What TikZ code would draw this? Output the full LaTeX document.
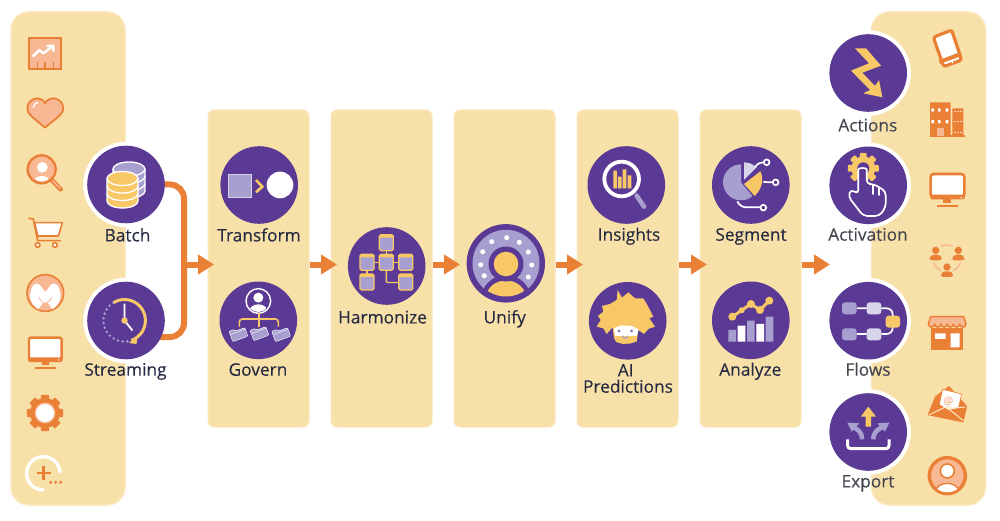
\documentclass[tikz,border=0pt]{standalone}
\usepackage{fontspec}
\setmainfont{Open Sans}[FakeBold=0.2]
\usetikzlibrary{arrows.meta,calc}
\definecolor{panelc}{HTML}{F8E0A9}
\definecolor{paneledge}{HTML}{FBE8BE}
\definecolor{oran}{HTML}{EA7F36}
\definecolor{lite}{HTML}{F9B894}
\definecolor{purp}{HTML}{5B3A96}
\definecolor{yell}{HTML}{F8C766}
\definecolor{lav}{HTML}{A79FCF}
\definecolor{lav2}{HTML}{D8D5EA}
\definecolor{inkd}{HTML}{262B42}
\definecolor{inkg}{HTML}{44474F}
\tikzset{
  outerpanel/.style={rectangle,rounded corners=18pt,fill=panelc,draw=paneledge,line width=1.5pt,minimum width=114pt,minimum height=493pt,inner sep=0pt},
  midpanel/.style={rectangle,rounded corners=6pt,fill=panelc,draw=paneledge,line width=1pt,minimum width=101pt,minimum height=317pt,inner sep=0pt},
  hub/.style={circle,fill=purp,minimum size=77.6pt,inner sep=0pt},
  ring/.style={circle,fill=white,minimum size=85.5pt,inner sep=0pt},
  lab/.style={text=inkd,font=\fontsize{17.3}{17.3}\selectfont,inner sep=0pt,anchor=base,yshift=-.7pt},
  labr/.style={lab,text=inkg},
  flow/.style={oran,line width=6pt,-{Triangle[length=16pt,width=19pt]},shorten >=0pt},
  conn/.style={oran,line width=6pt,rounded corners=14pt},
  zm/.style 2 args={shift={(#1,#2)},scale=.3333}
}
\newcommand{\gearicon}[6]{% x y body outer halfw colour
  \fill[#6] (#1,#2) circle[radius=#3];
  \foreach \a in {0,45,...,315}{
    \fill[#6,shift={(#1,#2)},rotate=\a,rounded corners=1pt] (-#5,-#4) rectangle (#5,-#3+1);
  }
}
\newcommand{\dbcyl}[6]{% cx ty rx ry h colour
  \filldraw[fill=#6,draw=white,line width=1.3pt] (#1-#3,#2) -- (#1-#3,#2+#5) arc[start angle=180,end angle=0,x radius=#3,y radius=#4] -- (#1+#3,#2) arc[start angle=0,end angle=-180,x radius=#3,y radius=#4] -- cycle;
  \draw[white,line width=1.3pt] (#1-#3,#2) arc[start angle=180,end angle=0,x radius=#3,y radius=#4];
  \draw[white,line width=1.3pt] (#1-#3,#2+#5/3) arc[start angle=180,end angle=0,x radius=#3,y radius=#4];
  \draw[white,line width=1.3pt] (#1-#3,#2+2*#5/3) arc[start angle=180,end angle=0,x radius=#3,y radius=#4];
}
\newcommand{\folderic}[2]{%
  \filldraw[shift={(#1,#2)},rotate=-20,fill=lav,draw=white,line width=.5pt,rounded corners=1pt] (-8,-5) -- (-8,6) -- (8,6) -- (8,-3) -- (-1,-3) -- (-3,-5) -- cycle;
  \fill[shift={(#1,#2)},rotate=-20,lav] (-7.5,-1) rectangle (7.5,5.5);
  \draw[shift={(#1,#2)},rotate=-20,lav2,line width=.8pt] (-7.5,-1.5) -- (7.5,-1.5);
}
\newcommand{\harmbox}[2]{%
  \filldraw[fill=lav,draw=yell,line width=1.2pt,rounded corners=1.5pt] (#1-7,#2-8) rectangle (#1+7,#2+8);
  \fill[yell,rounded corners=1pt] (#1-7,#2-8) rectangle (#1+7,#2-5);
}
\begin{document}
\begin{tikzpicture}[x=1pt,y=1pt,yscale=-1]
\useasboundingbox (0,0) rectangle (1000,521);
\fill[white] (0,0) rectangle (1000,521);
% panels
\node[outerpanel] (srcp) at (68,258.5) {};
\node[outerpanel] (dstp) at (928.5,258.5) {};
\node[midpanel] (p1) at (258.5,268.5) {};
\node[midpanel] (p2) at (381.5,268.5) {};
\node[midpanel] (p3) at (504.5,268.5) {};
\node[midpanel] (p4) at (627.5,268.5) {};
\node[midpanel] (p5) at (750.5,268.5) {};
% rings
\node[ring] (batchr) at (126,184.5) {};
\node[ring] (streamr) at (126,320.5) {};
\node[ring] (actionsr) at (868.2,73) {};
\node[ring] (activr) at (868.2,185.3) {};
\node[ring] (flowsr) at (868.2,320.7) {};
\node[ring] (exportr) at (868.2,432) {};
% connectors
\coordinate (jt) at (184,184.5);
\coordinate (jm) at (184,264.5);
\coordinate (jb) at (184,337);
\coordinate (t1) at (214,264.5);
\coordinate (t2) at (337,264.5);
\coordinate (t3) at (460,264.5);
\coordinate (t4) at (583,264.5);
\coordinate (t5) at (707,264.5);
\coordinate (t6) at (830,264.5);
\draw[conn] (batchr.center |- jt) -- (jt) -- (jb) -- (streamr.center |- jb);
\draw[flow] (jm) -- (t1);
\draw[flow] (p1.east |- t2) -- (t2);
\draw[flow] (p2.east |- t3) -- (t3);
\draw[flow] (p3.east |- t4) -- (t4);
\draw[flow] (p4.east |- t5) -- (t5);
\draw[flow] (p5.east |- t6) -- (t6);
% hubs
\node[hub] (batch) at (126,184.5) {};
\node[hub] (stream) at (126,320.5) {};
\node[hub] (transf) at (259.2,185) {};
\node[hub] (govern) at (258.3,320.3) {};
\node[hub] (harm) at (386.7,266) {};
\node[hub,minimum size=78.4pt] (unify) at (505.8,263.3) {};
\node[hub] (insights) at (626.3,185) {};
\node[hub] (aipred) at (627.7,320.8) {};
\node[hub] (segment) at (750.8,185) {};
\node[hub] (analyze) at (750.8,320.3) {};
\node[hub] (actions) at (868.2,73) {};
\node[hub] (activ) at (868.2,185.3) {};
\node[hub] (flows) at (868.2,320.7) {};
\node[hub] (export) at (868.2,432) {};
% labels
\node[lab] (lbatch) at (127.5,240.7) {Batch};
\node[lab] (lstream) at (125.5,375) {Streaming};
\node[lab] (ltransf) at (259,240.7) {Transform};
\node[lab] (lgovern) at (258,375) {Govern};
\node[lab] (lharm) at (382.5,322.7) {Harmonize};
\node[lab] (lunify) at (504.7,322.7) {Unify};
\node[lab] (linsights) at (629,240) {Insights};
\node[lab] (lai) at (625.7,375.7) {AI};
\node[lab] (lpred) at (628,392) {Predictions};
\node[lab] (lsegment) at (751,240) {Segment};
\node[lab] (lanalyze) at (750.3,375) {Analyze};
\node[labr] (lactions) at (867.8,130.7) {Actions};
\node[labr] (lactiv) at (868,240) {Activation};
\node[labr] (lflows) at (868,375) {Flows};
\node[labr] (lexport) at (868,486.7) {Export};

%%%%%%%% left column icons
\begin{scope}[zm={0}{0}]
 % chart
 \filldraw[fill=lite,draw=oran,line width=1.8pt] (88,113) rectangle (183,207);
 \draw[oran,line width=1.3pt] (112,207) -- (112,186) (135,207) -- (135,186) (160,207) -- (160,186);
 \draw[white,line width=2.4pt,line join=round] (98,170) -- (118,150) -- (130,160) -- (158,138);
 \draw[white,line width=2.4pt,line join=round] (140,138) -- (160,137) -- (160,155);
 % heart
 \filldraw[fill=lite,draw=oran,line width=1.8pt,line join=round] (135,383) .. controls (110,360) and (82,345) .. (82,325) .. controls (82,305) and (100,295) .. (112,295) .. controls (122,295) and (130,300) .. (135,310) .. controls (140,300) and (150,295) .. (160,295) .. controls (172,295) and (190,305) .. (190,325) .. controls (190,345) and (160,360) .. (135,383) -- cycle;
 \draw[white,line width=1.4pt,line cap=round] (100,323) .. controls (100,315) and (105,310) .. (112,308);
 % search person
 \draw[oran,line width=4.6pt,line cap=round] (155,540) -- (182,568);
 \draw[lite,line width=1.6pt,line cap=round] (158,543) -- (180,565);
 \filldraw[fill=lite,draw=oran,line width=2.4pt] (125,508) circle[radius=42];
 \fill[white] (127,502) circle[radius=16];
 \begin{scope}
  \clip (125,508) circle[radius=36];
  \fill[white] (125,545) ellipse[x radius=24,y radius=17];
 \end{scope}
 % cart
 \filldraw[fill=white,draw=oran,line width=1.6pt,line join=round] (104,668) -- (187,668) -- (175,708) -- (113,708) -- cycle;
 \draw[oran,line width=1.7pt,line join=round] (85,655) -- (100,657) -- (113,722) -- (183,722);
 \draw[oran,line width=1.6pt,fill=white] (113,735) circle[radius=7] (165,735) circle[radius=7];
\end{scope}
\begin{scope}[zm={0}{260}]
 % mule
 \filldraw[fill=lite,draw=oran,line width=1.6pt] (136,99) circle[radius=55];
 \draw[white,line width=8pt,line join=round] (122,138) .. controls (100,125) and (97,105) .. (110,82) -- (136,116) -- (162,82) .. controls (175,105) and (172,125) .. (150,138);
 % monitor
 \filldraw[fill=white,draw=oran,line width=2.4pt,rounded corners=2pt] (87,233) rectangle (185,303);
 \fill[oran,rounded corners=1pt] (87,292) rectangle (185,306);
 \fill[white] (176,300) circle[radius=2.5];
 \fill[oran] (125,305) rectangle (148,316);
 \draw[oran,line width=2pt] (105,323) -- (167,323);
 % plus
 \draw[white,line width=3.4pt,line cap=round] (130,640) ++(-5:50) arc[start angle=-5,end angle=-270,radius=50];
 \draw[oran,line width=2.8pt] (130,618) -- (130,660) (110,639) -- (152,639);
 \fill[oran] (152,667) circle[radius=5] (167,667) circle[radius=5] (182,667) circle[radius=5];
\end{scope}
% gear
\gearicon{45}{413}{15}{18.2}{4.2}{oran}
\fill[lite] (45,413) circle[radius=10.5];
\fill[white] (45,413) circle[radius=9];

% Batch
\dbcyl{129}{169}{16}{7}{22}{lav}
\dbcyl{122.5}{178.5}{15.5}{7}{22.5}{yell}
% Streaming
\begin{scope}[shift={(124.5,320.5)}]
 \foreach \a in {82,95,...,240}{\fill[lav] (\a:21) circle[radius=1.4];}
 \draw[yell,line width=3pt] (-121:21) arc[start angle=-121,end angle=71,radius=21];
 \fill[yell] (4.5,22.5) -- (13,15) -- (12,23.5) -- cycle;
 \draw[white,line width=1.8pt] (0,-17) -- (0,0) -- (8,10);
 \fill[yell] (0,0) circle[radius=3.2];
\end{scope}
%%% middle
\begin{scope}[zm={200}{130}]
 % Transform
 \filldraw[fill=lav,draw=lav2,line width=.4pt] (85,132) rectangle (155,202);
 \draw[yell,line width=2.6pt] (168,150) -- (187,170) -- (168,187);
 \fill[white] (240,165) circle[radius=40];
 % Govern
 \draw[white,line width=1.4pt] (175,513) circle[radius=37];
 \fill[white] (175,503) circle[radius=15];
 \begin{scope}
  \clip (175,513) circle[radius=33];
  \fill[white] (175,545) ellipse[x radius=28,y radius=22];
 \end{scope}
 \draw[yell,line width=1.6pt,rounded corners=3pt] (118,590) -- (118,567) -- (235,567) -- (235,590);
 \draw[yell,line width=1.6pt] (177,550) -- (177,590);
\end{scope}
\folderic{238.3}{333.3}
\folderic{259.3}{332.3}
\folderic{281}{333.3}
% Harmonize
\draw[yell,line width=1.4pt] (386.3,243) -- (386.3,262) (367,262.3) -- (405.7,262.3) (367,262) -- (367,282);
\draw[yell,line width=1.4pt,rounded corners=1pt] (386.3,262) -- (386.3,282.5) -- (405,282.5);
\harmbox{386.3}{242.7}
\harmbox{367}{262.3}
\harmbox{386.3}{262.3}
\harmbox{405.7}{262.3}
\harmbox{367}{282}
\harmbox{405.7}{282}
% Unify
\fill[lav] (506,263.3) circle[radius=33.5];
\begin{scope}
 \clip (506,263.3) circle[radius=39];
 \fill[purp] (506,300) circle[radius=25];
\end{scope}
\begin{scope}
 \clip (506,264) circle[radius=32.5];
 \fill[yell] (506,298) ellipse[x radius=20,y radius=17.5];
\end{scope}
\fill[purp] (506,264) circle[radius=17.5];
\fill[yell] (506,264) circle[radius=12.3];
\foreach \px/\py in {480.7/264.7,482.7/251.7,491.7/241.7,506.7/237.7,519.3/242.3,528.3/252,531.7/265,528.3/277,484.3/275.7}{\fill[white] (\px,\py) circle[radius=2.5];}
\begin{scope}[zm={440}{130}]
 % Insights
 \draw[lav,line width=4.6pt,line cap=round] (590,197) -- (612,230);
 \draw[white,line width=3.8pt] (545,147) circle[radius=52];
 \fill[yell] (520,122) rectangle (531,175) (534,140) rectangle (545,175) (548,118) rectangle (559,175) (563,136) rectangle (574,175);
 % Einstein
 \fill[yell,line join=round] (533,480) -- (546,503) -- (565,487) -- (585,505) -- (610,505) -- (622,525) -- (640,560) -- (628,565) -- (645,590) -- (625,597) -- (612,612) -- (595,600) -- (590,635) -- (550,642) -- (522,625) -- (518,592) -- (500,612) -- (490,595) -- (470,590) -- (482,570) -- (474,558) -- (490,545) -- (486,528) -- (510,522) -- (530,510) -- cycle;
 \fill[white] (522,594) -- (545,586) -- (575,588) -- (596,598) -- (590,618) -- (525,618) -- cycle;
 \fill[lav] (537,603) circle[radius=5] (575,603) circle[radius=5];
 \fill[purp] (537,603) circle[radius=2.4] (575,603) circle[radius=2.4];
 \draw[lav,line width=1.2pt] (548,617) arc[start angle=180,end angle=0,radius=8];
 \fill[yell] (522,622) -- (548,630) -- (566,630) -- (592,620) -- (590,634) -- (570,641) -- (545,641) -- (528,636) -- cycle;
\end{scope}
\begin{scope}[zm={680}{130}]
 % Segment
 \fill[lav] (183,157) -- ++(50:54) arc[start angle=50,end angle=270,radius=54] -- cycle;
 \fill[lav2] (192,150) -- (192,97) arc[start angle=-90,end angle=-45,radius=53] -- cycle;
 \fill[yell] (192,162) -- (241,124) .. controls (252,145) and (248,175) .. (224,198) -- cycle;
 \draw[white,line width=1.7pt] (225,112) .. controls (232,100) and (240,98) .. (252,97);
 \draw[white,line width=1.7pt] (250,156) -- (280,157);
 \draw[white,line width=1.7pt,rounded corners=6pt] (172,214) -- (180,232) -- (242,232);
 \filldraw[fill=purp,draw=white,line width=1.7pt] (260,97) circle[radius=8.5] (287,157) circle[radius=8.5] (250,233) circle[radius=8.5];
 % Analyze
 \fill[lav] (145,600) rectangle (168,635) (201,572) rectangle (224,635) (257,560) rectangle (280,635);
 \fill[white] (173,587) rectangle (196,635) (229,582) rectangle (252,635);
 \draw[yell,line width=3pt] (157,560) -- (213,522) -- (240,540) -- (268,512);
 \fill[yell] (157,560) circle[radius=12] (185,541) circle[radius=9] (213,522) circle[radius=12] (240,540) circle[radius=12] (268,512) circle[radius=12];
\end{scope}
%%% right hubs
\begin{scope}[zm={820}{0}]
 % bolt
 \fill[yell,line join=round] (105,145) -- (138,145) -- (183,197) -- (127,218) -- (165,258) -- (177,240) -- (187,292) -- (130,280) -- (150,270) -- (93,212) -- (147,190) -- cycle;
\end{scope}
\gearicon{863.3}{168.3}{12}{15.5}{3.4}{yell}
\fill[purp] (863.3,168.3) circle[radius=6];
\begin{scope}[zm={820}{0}]
 \filldraw[fill=purp,draw=white,line width=1.7pt,line join=round,rounded corners=4pt] (115,582) -- (115,520) .. controls (115,503) and (140,503) .. (140,520) -- (140,552) -- (160,552) -- (178,562) -- (197,574) -- (197,622) -- (178,648) -- (130,648) -- (85,590) -- (92,568) -- cycle;
 \draw[white,line width=1.7pt,line cap=round] (158,555) -- (158,582) (178,565) -- (178,585);
 % phone
 \filldraw[fill=white,draw=oran,line width=3.2pt,rounded corners=2.5pt] (340,112) -- (395,90) -- (425,180) -- (371,200) -- cycle;
 \draw[oran,line width=4pt,line cap=butt] (358,186) -- (418,164);
 \fill[white] (397,187) circle[radius=3];
 % building
 \fill[oran] (330,307) rectangle (392,408) (397,325) rectangle (430,408);
 \draw[oran,line width=1.2pt] (330,408) -- (435,408);
 \fill[lite] (350,385) rectangle (372,407);
 \foreach \ya in {330,365}{\foreach \xa in {338,358,381}{\fill[white,rounded corners=.5pt] (\xa-4,\ya-5) rectangle (\xa+4,\ya+5);}}
 \foreach \ya in {335,365,397}{\foreach \xa in {405,414,423}{\fill[white] (\xa,\ya) circle[radius=2.3];}}
 % monitor right
 \filldraw[fill=white,draw=oran,line width=2.6pt,rounded corners=3pt] (332,522) rectangle (433,592);
 \fill[oran,rounded corners=1pt] (332,584) rectangle (433,598);
 \fill[white] (424,593) circle[radius=2.5];
 \fill[oran] (370,598) rectangle (393,610);
 \draw[oran,line width=2pt] (350,618) -- (413,618);
\end{scope}
\begin{scope}[zm={915}{230}]
 % people
 \draw[lite,line width=1.5pt] (78,49) .. controls (88,44) and (102,44) .. (112,49);
 \draw[lite,line width=1.5pt] (56,98) .. controls (60,110) and (68,118) .. (78,122);
 \draw[lite,line width=1.5pt] (137,98) .. controls (132,110) and (124,118) .. (114,122);
 \foreach \xa/\ya in {62/61,130/61,96/111}{
  \fill[oran] (\xa,\ya) circle[radius=11];
  \fill[oran,rounded corners=2.5pt] (\xa-18,\ya+30) -- (\xa-18,\ya+21) -- (\xa-10,\ya+13) -- (\xa+10,\ya+13) -- (\xa+18,\ya+21) -- (\xa+18,\ya+30) -- cycle;
 }
\end{scope}
\begin{scope}[zm={820}{260}]
 % flows
 \draw[white,line width=1.7pt,rounded corners=6pt] (110,145) -- (140,145) (184,145) -- (218,145) -- (218,170) (184,222) -- (218,222) -- (218,200) (110,222) -- (140,222);
 \fill[lav,rounded corners=3pt] (66,127) rectangle (110,163) (66,205) rectangle (110,241);
 \fill[lav2,rounded corners=3pt] (140,127) rectangle (184,163) (140,205) rectangle (184,241);
 \fill[yell,rounded corners=3pt] (197,167) rectangle (240,203);
 % export
 \draw[white,line width=3pt,rounded corners=3pt] (83,538) -- (83,566) -- (207,566) -- (207,538);
 \fill[yell] (145,440) -- (122,470) -- (137,470) -- (137,500) -- (153,500) -- (153,470) -- (168,470) -- cycle;
 \draw[lav,line width=4.6pt] (126,538) .. controls (126,515) and (112,508) .. (98,500);
 \fill[lav] (82,488) -- (118,490) -- (95,515) -- cycle;
 \draw[lav,line width=4.6pt] (160,538) .. controls (160,515) and (174,508) .. (190,500);
 \fill[lav] (208,488) -- (172,490) -- (195,515) -- cycle;
 % store
 \fill[oran] (333,205) rectangle (430,270);
 \fill[white] (345,220) rectangle (377,237) (392,220) rectangle (419,262);
 \filldraw[fill=lite,draw=oran,line width=1.5pt,line join=round] (332,170) -- (431,170) -- (438,192) arc[start angle=0,end angle=180,radius=9.4] arc[start angle=0,end angle=180,radius=9.4] arc[start angle=0,end angle=180,radius=9.4] arc[start angle=0,end angle=180,radius=9.4] arc[start angle=0,end angle=180,radius=9.4] arc[start angle=0,end angle=180,radius=9.4] -- cycle;
 % envelope
 \fill[oran] (323,465) -- (345,410) -- (387,378) -- (441,438) -- (430,487) -- cycle;
 \filldraw[fill=white,draw=oran,line width=.6pt] (368,388) -- (425,402) -- (412,458) -- (355,445) -- cycle;
 \node[text=lite,font=\fontsize{11}{11}\selectfont,inner sep=0pt] (mailat) at (385,423) {@};
 \fill[oran] (323,465) -- (345,425) -- (385,450) -- (441,438) -- (430,487) -- cycle;
 \draw[paneledge,line width=1pt] (327,465) -- (378,440) (378,440) -- (430,482) (378,440) -- (395,445) -- (436,441);
 % person
 \filldraw[fill=lite,draw=oran,line width=3.4pt] (382,647) circle[radius=54];
 \begin{scope}
  \clip (382,647) circle[radius=50];
  \filldraw[fill=white,draw=oran,line width=1.4pt] (382,698) ellipse[x radius=36,y radius=28];
 \end{scope}
 \filldraw[fill=white,draw=oran,line width=1.6pt] (382,633) circle[radius=21];
\end{scope}
\end{tikzpicture}
\end{document}
